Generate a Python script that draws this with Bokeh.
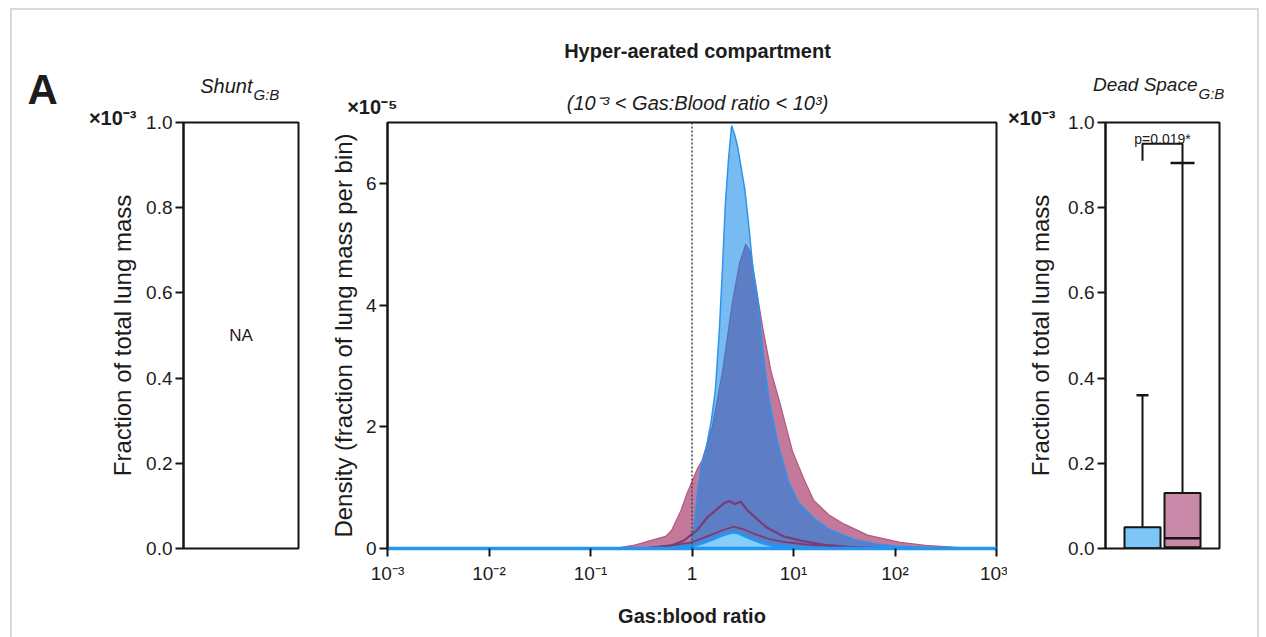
from bokeh.plotting import figure
from bokeh.models import Range1d, FixedTicker, Label, Span, NumeralTickFormatter
from bokeh.layouts import row, column
from bokeh.core.properties import value
from bokeh.embed import file_html
from bokeh.resources import INLINE

FONT = "Liberation Sans"
TXT = "#1c1c1c"
INK = "#141414"

# ---------------- data ----------------
# Hyper-aerated compartment: density (fraction of lung mass per bin, x1e-5)
# x values are log10(gas:blood ratio)
blue_upper_logx = [-3.0, -0.6, -0.3, -0.1, 0.0, 0.03, 0.06, 0.09, 0.14, 0.19, 0.23, 0.27, 0.30,
                   0.33, 0.36, 0.39, 0.42, 0.45, 0.48, 0.52, 0.56, 0.60, 0.65, 0.70, 0.76, 0.85,
                   0.95, 1.05, 1.2, 1.37, 1.6, 1.8, 2.0, 2.3, 2.6, 3.0]
blue_upper_dens = [0.0, 0.0, 0.02, 0.05, 0.12, 0.5, 1.0, 1.35, 1.65, 2.1, 2.6, 3.6, 4.6,
                   5.7, 6.4, 6.95, 6.8, 6.6, 6.3, 5.9, 5.3, 4.6, 4.07, 3.2, 2.43, 1.7,
                   1.1, 0.75, 0.5, 0.3, 0.15, 0.08, 0.04, 0.015, 0.0, 0.0]

pink_upper_logx = [-3.0, -1.0, -0.7, -0.58, -0.41, -0.26, -0.2, -0.11, -0.05, 0.0, 0.05, 0.1,
                   0.2, 0.3, 0.4, 0.47, 0.53, 0.58, 0.65, 0.7, 0.78, 0.86, 0.99, 1.1, 1.2,
                   1.35, 1.5, 1.73, 2.05, 2.3, 2.6, 2.8, 3.0]
pink_upper_dens = [0.0, 0.0, 0.02, 0.05, 0.13, 0.2, 0.3, 0.62, 0.9, 1.1, 1.3, 1.45,
                   2.0, 2.9, 4.07, 4.7, 5.0, 4.85, 4.1, 3.6, 2.9, 2.43, 1.6, 1.15, 0.79,
                   0.55, 0.4, 0.22, 0.1, 0.05, 0.02, 0.0, 0.0]

pink_mid_logx = [-0.5, -0.3, -0.2, -0.08, 0.05, 0.15, 0.25, 0.32, 0.37, 0.42, 0.48, 0.55,
                 0.65, 0.74, 0.9, 1.07, 1.3, 1.6, 2.0]
pink_mid_dens = [0.0, 0.03, 0.05, 0.13, 0.3, 0.51, 0.65, 0.75, 0.78, 0.73, 0.77, 0.62,
                 0.47, 0.34, 0.2, 0.13, 0.06, 0.02, 0.0]

pink_low_logx = [-0.4, -0.2, 0.0, 0.15, 0.3, 0.41, 0.5, 0.6, 0.75, 0.9, 1.1, 1.4, 1.8, 2.2]
pink_low_dens = [0.02, 0.05, 0.1, 0.2, 0.3, 0.36, 0.32, 0.25, 0.16, 0.11, 0.07, 0.035, 0.01, 0.0]

blue_low_logx = [-3.0, -0.3, -0.1, 0.0, 0.1, 0.2, 0.3, 0.4, 0.45, 0.5, 0.6, 0.7, 0.8, 1.0, 1.3, 3.0]
blue_low_dens = [0.0, 0.0, 0.01, 0.04, 0.09, 0.15, 0.22, 0.27, 0.26, 0.22, 0.15, 0.09, 0.05, 0.02, 0.0, 0.0]

ratio_ticks = [-3, -2, -1, 0, 1, 2, 3]
ratio_tick_labels = ["10⁻³", "10⁻²", "10⁻¹", "1", "10¹", "10²", "10³"]
density_ticks = [0, 2, 4, 6]
fraction_ticks = [0.0, 0.2, 0.4, 0.6, 0.8, 1.0]

# Dead space G:B box plots (fraction of total lung mass, x1e-3)
groups = [0, 1]
box_colors = ["#7cc7f7", "#c98aa9"]
box_q1 = [0.0, 0.003]
box_median = [0.0, 0.024]
box_q3 = [0.05, 0.13]
whisker_low = [0.0, 0.0]
whisker_high = [0.36, 0.905]
p_value_text = "p=0.019*"
shunt_text = "NA"

# ---------------- layout geometry ----------------
W, H = 1266, 637
FT, FB = 122, 548  # frame top / bottom (canvas px)


def make_fig(width, canvas_left, fl, fr, xr, yr):
    p = figure(width=width, height=H, x_range=Range1d(*xr), y_range=Range1d(*yr),
               output_backend="svg", toolbar_location=None,
               min_border_left=fl - canvas_left, min_border_right=canvas_left + width - fr,
               min_border_top=FT, min_border_bottom=H - FB)
    p.grid.visible = False
    p.outline_line_color = INK
    p.outline_line_width = 2
    p.outline_line_alpha = 1
    p.border_fill_color = None
    p.background_fill_color = "white"
    return p


def style_axis(ax):
    ax.axis_line_width = 2
    ax.axis_line_color = INK
    ax.major_tick_line_width = 2
    ax.major_tick_line_color = INK
    ax.major_tick_out = 8
    ax.major_tick_in = 0
    ax.minor_tick_line_color = None
    ax.major_label_text_font = FONT
    ax.major_label_text_font_size = "19px"
    ax.major_label_text_color = TXT
    ax.axis_label_text_font = FONT
    ax.axis_label_text_font_size = "24px"
    ax.axis_label_text_font_style = "normal"
    ax.axis_label_text_color = TXT


# ---------------- panel 1: Shunt ----------------
W1 = 320
f1 = make_fig(W1, 0, 183, 298, (0, 1), (0, 1))
f1.xaxis.visible = False
style_axis(f1.yaxis[0])
f1.yaxis.ticker = FixedTicker(ticks=fraction_ticks, minor_ticks=[])
f1.yaxis.formatter = NumeralTickFormatter(format="0.0")
f1.yaxis.axis_label = "Fraction of total lung mass"
f1.yaxis.major_label_standoff = 3
f1.yaxis.axis_label_standoff = 7
f1.add_layout(Label(x=0.5, y=0.5, text=shunt_text, text_font=FONT, text_font_size="17px",
                    text_color=TXT, text_align="center", text_baseline="middle"))

# ---------------- panel 2: density ----------------
W2 = 687
f2 = make_fig(W2, W1, 387, 996, (-3, 3), (0, 7))
style_axis(f2.xaxis[0])
style_axis(f2.yaxis[0])
f2.xaxis.ticker = FixedTicker(ticks=ratio_ticks, minor_ticks=[])
f2.xaxis.major_label_overrides = {t: s for t, s in zip(ratio_ticks, ratio_tick_labels)}
f2.xaxis.axis_label = "Gas:blood ratio"
f2.xaxis.axis_label_text_font_style = "bold"
f2.xaxis.axis_label_text_font_size = "20px"
f2.xaxis.major_label_standoff = 6
f2.xaxis.axis_label_standoff = 18
f2.xaxis.axis_line_color = "#2196f3"
f2.xaxis.axis_line_width = 3.5
f2.yaxis.ticker = FixedTicker(ticks=density_ticks, minor_ticks=[])
f2.yaxis.axis_label = "Density (fraction of lung mass per bin)"
f2.yaxis.major_label_standoff = 3
f2.yaxis.axis_label_standoff = 6

PINK = "#c4789a"
f2.varea(x=pink_upper_logx, y1=0, y2=pink_upper_dens, fill_color=PINK, fill_alpha=1.0)
f2.line(pink_upper_logx, pink_upper_dens, line_color="#b05a82", line_width=1.2)
f2.varea(x=blue_upper_logx, y1=0, y2=blue_upper_dens, fill_color="#0a84ea", fill_alpha=0.55)
f2.line(blue_upper_logx, blue_upper_dens, line_color="#2b95ee", line_width=1.5)
f2.line(pink_mid_logx, pink_mid_dens, line_color="#7d3a73", line_width=2.2)
f2.line(pink_low_logx, pink_low_dens, line_color="#7d3a73", line_width=1.8)
f2.varea(x=blue_low_logx, y1=0, y2=blue_low_dens, fill_color="#86cdf9", fill_alpha=1.0)
f2.line(blue_low_logx, blue_low_dens, line_color="#2196f3", line_width=3)
f2.add_layout(Span(location=0, dimension="height", line_color="#444444",
                   line_dash="2 2", line_width=1.5))

# ---------------- panel 3: dead space ----------------
W3 = W - W1 - W2
f3 = make_fig(W3, W1 + W2, 1105, 1219, (-0.925, 1.925), (0, 1))
f3.xaxis.visible = False
style_axis(f3.yaxis[0])
f3.yaxis.ticker = FixedTicker(ticks=fraction_ticks, minor_ticks=[])
f3.yaxis.formatter = NumeralTickFormatter(format="0.0")
f3.yaxis.axis_label = "Fraction of total lung mass"
f3.yaxis.major_label_standoff = 3
f3.yaxis.axis_label_standoff = 11

BW = 0.9
caps = [0.15, 0.3]
f3.segment(x0=groups, y0=box_q3, x1=groups, y1=whisker_high, line_color=INK, line_width=2)
f3.segment(x0=groups, y0=whisker_low, x1=groups, y1=box_q1, line_color=INK, line_width=2)
f3.segment(x0=[g - c for g, c in zip(groups, caps)], y0=whisker_high,
           x1=[g + c for g, c in zip(groups, caps)], y1=whisker_high, line_color=INK, line_width=2.5)
f3.vbar(x=groups, width=BW, bottom=box_q1, top=box_q3, fill_color=box_colors,
        line_color=INK, line_width=2)
f3.segment(x0=[g - BW / 2 for g in groups], y0=box_median, x1=[g + BW / 2 for g in groups],
           y1=box_median, line_color=INK, line_width=2.5)
top = max(whisker_high) + 0.045
f3.line(x=[groups[0], groups[0], groups[1], groups[1]],
        y=[top - 0.04, top, top, whisker_high[1]], line_color=INK, line_width=2)
f3.add_layout(Label(x=(groups[0] + groups[1]) / 2, y=top + 0.012, text=p_value_text,
                    text_font=FONT, text_font_size="14px", text_color=TXT,
                    text_align="center", text_baseline="alphabetic"))

panels = row(f1, f2, f3, styles={
    "background-image": "linear-gradient(#d9d9d9,#d9d9d9),linear-gradient(#d9d9d9,#d9d9d9),linear-gradient(#d9d9d9,#d9d9d9)",
    "background-size": "2px 700px, 1249px 2px, 2px 700px",
    "background-position": "10px 8px, 10px 8px, 1257px 8px",
    "background-repeat": "no-repeat",
})

# ---------------- transparent overlay for titles (page pixel coordinates) ----------------
ov = figure(width=W, height=H, x_range=Range1d(0, W), y_range=Range1d(H, 0),
            output_backend="svg", toolbar_location=None,
            min_border_left=0, min_border_right=0, min_border_top=0, min_border_bottom=0,
            margin=(-H, 0, 0, 0))
ov.xaxis.visible = False
ov.yaxis.visible = False
ov.grid.visible = False
ov.outline_line_color = None
ov.border_fill_color = None
ov.background_fill_color = None


def txt(xs, ys, texts, size, style="normal", align="left"):
    ov.text(x=xs, y=ys, text=texts, text_font=value(FONT), text_font_size=value(size),
            text_font_style=style, text_align=align, text_baseline="middle",
            text_color=TXT)


txt([27], [89], ["A"], "42px", "bold")
txt([252], [85], ["Shunt"], "20px", "italic", "right")
txt([1197], [84], ["Dead Space"], "19px", "italic", "right")
txt([253, 1198], [94, 93], ["G:B", "G:B"], "15px", "italic", "left")
txt([136, 397, 1055], [117, 106, 117], ["×10⁻³", "×10⁻⁵", "×10⁻³"], "20px", "bold", "right")
txt([697], [50], ["Hyper-aerated compartment"], "20px", "bold", "center")
txt([697], [102], ["(10⁻³ < Gas:Blood ratio < 10³)"], "20px", "italic", "center")

layout = column(panels, ov)

with open("out.html", "w") as fh:
    fh.write(file_html(layout, INLINE))
